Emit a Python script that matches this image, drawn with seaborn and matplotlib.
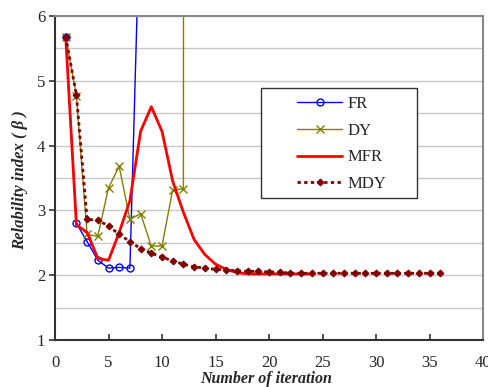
import matplotlib
matplotlib.use("Agg")
import matplotlib.pyplot as plt
import matplotlib.patches as mpatches
import seaborn as sns
import numpy as np

# Data
fr_x = [1, 2, 3, 4, 5, 6, 7, 8]
fr_y = [5.68, 2.80, 2.52, 2.23, 2.11, 2.12, 2.11, 8.0]

dy_x = [1, 2, 3, 4, 5, 6, 7, 8, 9, 10, 11, 12, 13]
dy_y = [5.68, 4.77, 2.63, 2.60, 3.35, 3.68, 2.86, 2.95, 2.45, 2.45, 3.32, 3.33, 300.0]

mfr_x = list(range(1, 25))
mfr_y = [5.68, 2.78, 2.66, 2.26, 2.23, 2.66, 3.15, 4.22, 4.60, 4.22, 3.45, 2.97, 2.55,
         2.32, 2.17, 2.09, 2.04, 2.02, 2.02, 2.02, 2.02, 2.02, 2.02, 2.02]

mdy_x = list(range(1, 37))
mdy_y = [5.68, 4.78, 2.86, 2.85, 2.76, 2.63, 2.52, 2.41, 2.34, 2.28, 2.22, 2.17, 2.13,
         2.11, 2.09, 2.08, 2.07, 2.06, 2.06, 2.05, 2.05, 2.03, 2.03, 2.03, 2.03, 2.03,
         2.03, 2.03, 2.03, 2.03, 2.03, 2.03, 2.03, 2.03, 2.03, 2.03]

sns.set_style("white")
plt.rcParams['font.family'] = ['Liberation Serif', 'DejaVu Serif']

W, H = 488, 387
fig = plt.figure(figsize=(W/100, H/100), dpi=100)
ax = fig.add_axes([55/W, 1 - 340/H, (483-55)/W, (340-16)/H])

sns.lineplot(x=fr_x, y=fr_y, ax=ax, color='#0000ff', lw=1.0, marker='o', markersize=5,
             markerfacecolor='none', markeredgecolor='#0000ff', markeredgewidth=1.0, label='FR')
sns.lineplot(x=dy_x, y=dy_y, ax=ax, color='#808000', lw=1.0, marker='x', markersize=6,
             markeredgecolor='#808000', markeredgewidth=1.0, label='DY')
sns.lineplot(x=mfr_x, y=mfr_y, ax=ax, color='#ff0000', lw=2.0, label='MFR')
sns.lineplot(x=mdy_x, y=mdy_y, ax=ax, color='#800000', lw=2.0, linestyle=(0, (1.2, 1.2)),
             marker='D', markersize=3.5, markeredgecolor='#800000', markerfacecolor='#800000',
             label='MDY')

ax.set_xlim(0, 40)
ax.set_ylim(1, 6)
ax.set_xticks(range(0, 41, 5))
ax.set_yticks(range(1, 7))
ax.set_yticks(np.arange(1.5, 6, 0.5), minor=True)
ax.yaxis.grid(True, which='both', color='#c8c8c8', lw=1.0)
ax.xaxis.grid(False)
ax.tick_params(axis='y', which='major', direction='out', length=4, width=1.2, color='#333333',
               labelsize=12, left=True, pad=3)
ax.tick_params(axis='y', which='minor', length=0)
ax.tick_params(axis='x', which='major', direction='in', length=4, width=1.2, color='#333333',
               labelsize=12, bottom=True, pad=11)

for side in ['left', 'bottom']:
    ax.spines[side].set_color('#333333')
    ax.spines[side].set_linewidth(1.5)
for side in ['top', 'right']:
    ax.spines[side].set_color('#888888')
    ax.spines[side].set_linewidth(1.5)

ax.set_xlabel('Number of iteration', fontsize=11.5, fontweight='bold', fontstyle='italic')
ax.xaxis.set_label_coords((266 - 55)/(483-55), -(379-340)/(340-16))
ax.xaxis.label.set_va('center')
ax.set_ylabel('Relability index ( β )', fontsize=12, fontweight='bold', fontstyle='italic')
ax.yaxis.set_label_coords(-(55-20)/(483-55), (340-180)/(340-16))
ax.yaxis.label.set_va('center')

# Legend frame
rect = mpatches.Rectangle((261/W, 1 - 198/H), (417-261)/W, (198-88)/H,
                          transform=fig.transFigure, facecolor='white', edgecolor='#333333',
                          lw=1.0, zorder=5, clip_on=False)
ax.add_patch(rect)
leg = ax.legend(loc='center', bbox_to_anchor=(341.5/W, 1 - 144/H),
                bbox_transform=fig.transFigure, frameon=False, fontsize=12,
                handlelength=2.7, labelspacing=0.65, borderpad=0, borderaxespad=0,
                handletextpad=0.3)
leg.set_zorder(6)

fig.savefig('out.png', dpi=100)
